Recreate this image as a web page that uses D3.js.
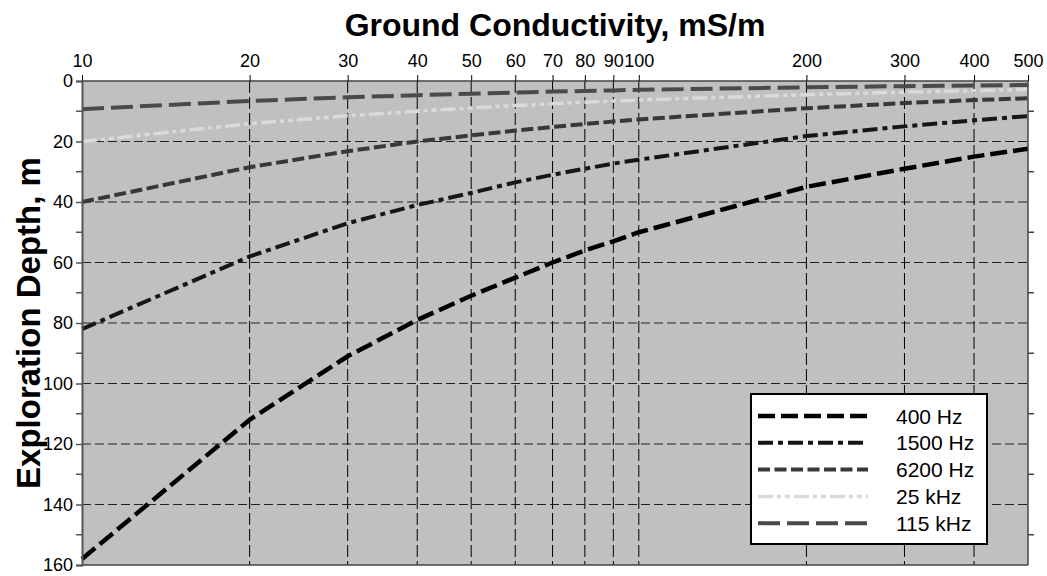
<!DOCTYPE html>
<html>
<head>
<meta charset="utf-8">
<script src="https://cdn.jsdelivr.net/npm/d3@7"></script>
<style>
  body { margin: 0; background: #fff; }
  text { font-family: "Liberation Sans", Arial, sans-serif; }
</style>
</head>
<body>
<div class="graph-center"></div>
<script>
// data
let conductivity = [10, 20, 30, 40, 50, 60, 70, 80, 90, 100, 200, 300, 400, 500]
let depth400 = [158, 112, 91, 79, 71, 65, 60, 56, 53, 50, 35, 29, 25, 22.4]
let depth1500 = [82, 58, 47, 41, 37, 33.5, 31, 29, 27.3, 26, 18.2, 15, 13, 11.6]
let depth6200 = [40, 28.5, 23.2, 20, 18, 16.4, 15.2, 14.2, 13.4, 12.7, 9, 7.3, 6.3, 5.7]
let depth25k = [20, 14.1, 11.5, 10, 8.9, 8.1, 7.5, 7.0, 6.6, 6.3, 4.5, 3.7, 3.2, 2.8]
let depth115k = [9.3, 6.6, 5.4, 4.7, 4.2, 3.8, 3.5, 3.3, 3.1, 2.9, 2.1, 1.7, 1.5, 1.3]
let seriesNames = ["400 Hz", "1500 Hz", "6200 Hz", "25 kHz", "115 kHz"]
let xTicks = [10, 20, 30, 40, 50, 60, 70, 80, 90, 100, 200, 300, 400, 500]
let yTicks = [0, 20, 40, 60, 80, 100, 120, 140, 160]
let yMinor = [10, 30, 50, 70, 90, 110, 130, 150]

let svgWidth = 1047
let svgHeight = 576
let margin = {left: 82, right: 19, top: 81, bottom: 11}
let width = svgWidth - margin.left - margin.right
let height = svgHeight - margin.top - margin.bottom

let svg = d3.select('.graph-center')
    .append('svg')
    .attr('width', svgWidth)
    .attr('height', svgHeight)
    .style('display', 'block')

let g = svg.append('g')
    .attr('transform', `translate(${margin.left},${margin.top})`)

let xScale = d3.scaleLog().domain([10, 500]).range([0, width])
let yScale = d3.scaleLinear().domain([0, 160]).range([0, height])

// plot background
g.append('rect')
    .attr('width', width).attr('height', height)
    .attr('fill', '#c0c0c0')

// grid
g.selectAll('.hgrid')
    .data(yTicks.filter(d => d > 0 && d < 160))
    .enter().append('line')
    .attr('x1', 0).attr('x2', width)
    .attr('y1', d => yScale(d)).attr('y2', d => yScale(d))
    .attr('stroke', '#222').attr('stroke-width', 1)
    .attr('stroke-dasharray', '9,4')

g.selectAll('.vgrid')
    .data(xTicks.filter(d => d > 10 && d < 500))
    .enter().append('line')
    .attr('x1', d => xScale(d)).attr('x2', d => xScale(d))
    .attr('y1', 0).attr('y2', height)
    .attr('stroke', '#000').attr('stroke-width', 1)
    .attr('stroke-dasharray', '12,4')

// series lines
let series = [depth400, depth1500, depth6200, depth25k, depth115k]
let styles = [
    {color: '#000', w: 4.5, dash: '17,6'},
    {color: '#161616', w: 4, dash: '15,5,5,5'},
    {color: '#383838', w: 4, dash: '12,4.5'},
    {color: '#dadada', w: 3.5, dash: '15,4,4,4,5,4'},
    {color: '#4a4a4a', w: 4, dash: '22,7'}
]

let valueLine = d3.line()
    .x((d, i) => xScale(conductivity[i]))
    .y(d => yScale(d))

series.forEach(function(s, i) {
    g.append('path')
        .attr('d', valueLine(s))
        .attr('fill', 'none')
        .attr('stroke', styles[i].color)
        .attr('stroke-width', styles[i].w)
        .attr('stroke-dasharray', styles[i].dash)
})

// frame
g.append('line').attr('x1', 0).attr('x2', width).attr('y1', 0).attr('y2', 0)
    .attr('stroke', '#444').attr('stroke-width', 1.5)
g.append('line').attr('x1', 0).attr('x2', width).attr('y1', height).attr('y2', height)
    .attr('stroke', '#444').attr('stroke-width', 1.5)
g.append('line').attr('x1', width).attr('x2', width).attr('y1', 0).attr('y2', height)
    .attr('stroke', '#444').attr('stroke-width', 1.5)

// axes
let xAxis = d3.axisTop(xScale)
    .tickValues(xTicks)
    .tickFormat(d3.format('d'))
    .tickSizeOuter(0)
    .tickSize(6)
    .tickPadding(8)

let yAxis = d3.axisLeft(yScale)
    .tickValues(yTicks)
    .tickSizeOuter(0)
    .tickSize(6)
    .tickPadding(3)

g.append('g').attr('id', 'x-axis').call(xAxis)
g.append('g').attr('id', 'y-axis').call(yAxis)

g.selectAll('#x-axis .domain').remove()
g.selectAll('#x-axis text').attr('font-size', 18).attr('fill', '#000')
    .attr('font-family', '"Liberation Sans", Arial, sans-serif')
g.selectAll('#x-axis line').attr('stroke', '#000')
g.select('#y-axis .domain').attr('stroke', '#555').attr('stroke-width', 2)
g.selectAll('#y-axis text').attr('font-size', 18).attr('fill', '#000')
    .attr('font-family', '"Liberation Sans", Arial, sans-serif')
g.selectAll('#y-axis line').attr('stroke', '#555').attr('stroke-width', 1.5)

// minor ticks: left and right
g.selectAll('.minorL').data(yMinor).enter().append('line')
    .attr('x1', -6).attr('x2', 0)
    .attr('y1', d => yScale(d)).attr('y2', d => yScale(d))
    .attr('stroke', '#555').attr('stroke-width', 1.5)
g.selectAll('.minorR').data(yMinor).enter().append('line')
    .attr('x1', width).attr('x2', width + 6)
    .attr('y1', d => yScale(d)).attr('y2', d => yScale(d))
    .attr('stroke', '#444').attr('stroke-width', 1.5)

// titles
svg.append('text')
    .attr('x', margin.left + width / 2).attr('y', 36)
    .attr('text-anchor', 'middle')
    .attr('font-size', 32).attr('font-weight', 'bold')
    .text('Ground Conductivity, mS/m')

svg.append('text')
    .attr('transform', `translate(40,${margin.top + height / 2}) rotate(-90)`)
    .attr('text-anchor', 'middle')
    .attr('font-size', 33).attr('font-weight', 'bold')
    .text('Exploration Depth, m')

// legend
let legend = svg.append('g').attr('transform', 'translate(751,394)')
legend.append('rect')
    .attr('width', 236).attr('height', 150)
    .attr('fill', '#fff').attr('stroke', '#000').attr('stroke-width', 2)

seriesNames.forEach(function(name, i) {
    let y = 22 + i * 26.8
    legend.append('line')
        .attr('x1', 7).attr('x2', 117)
        .attr('y1', y).attr('y2', y)
        .attr('stroke', styles[i].color)
        .attr('stroke-width', styles[i].w)
        .attr('stroke-dasharray', styles[i].dash)
    legend.append('text')
        .attr('x', 145).attr('y', y + 7.5)
        .attr('font-size', 21)
        .text(name)
})
</script>
</body>
</html>
